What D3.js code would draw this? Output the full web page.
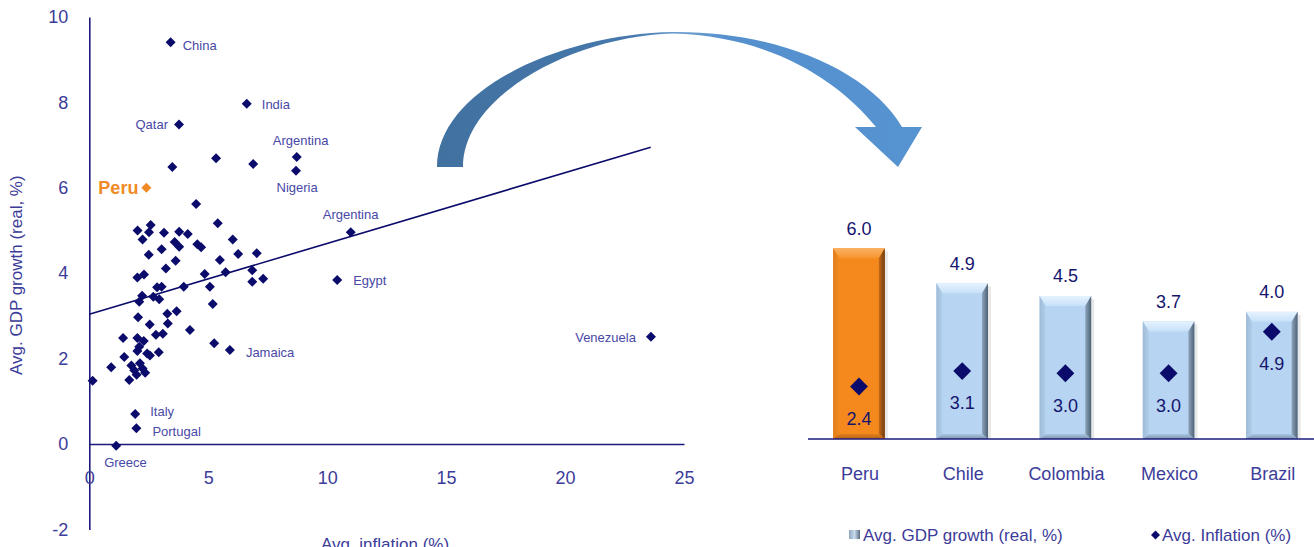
<!DOCTYPE html>
<html><head><meta charset="utf-8">
<script src="https://cdn.jsdelivr.net/npm/d3@7"></script>
<style>body{margin:0;background:#fff}svg{display:block;font-family:"Liberation Sans",Arial,sans-serif}</style>
</head><body><svg id="c" width="1314" height="547"></svg>
<script>
// ---------- data ----------
const clusterInflation = [4.49,2.58,2.03,2.51,3.14,3.78,4.14,5.40,2.24,6.03,3.59,3.78,4.54,4.70,3.04,2.50,6.26,7.04,5.49,3.63,3.22,6.85,5.73,4.85,2.30,2.02,6.85,7.31,3.97,5.07,2.85,3.04,2.22,2.69,2.94,2.10,5.19,3.67,3.28,2.05,3.30,2.54,4.23,3.09,2.80,1.42,2.02,2.29,5.25,2.10,2.02,2.43,2.92,1.47,2.55,0.92,1.77,2.13,1.89,2.24,2.35,1.99,1.68,0.14,3.49,5.33,6.89];
const clusterGdp =       [5.62,5.13,5.00,4.96,4.95,4.97,4.92,5.17,4.79,4.79,4.73,4.62,4.68,4.61,4.56,4.43,4.45,4.47,4.31,4.29,4.11,4.07,4.02,3.98,3.97,3.90,3.80,3.87,3.68,3.68,3.67,3.68,3.47,3.45,3.39,3.33,3.28,3.11,3.05,2.97,2.82,2.80,2.67,2.58,2.56,2.48,2.48,2.41,2.36,2.28,2.18,2.12,2.15,2.04,2.07,1.80,1.84,1.89,1.73,1.77,1.67,1.62,1.50,1.48,6.49,6.69,6.56];
const namedCountries = ["China","India","Qatar","Argentina","Nigeria","Argentina","Egypt","Venezuela","Jamaica","Italy","Portugal","Greece"];
const namedInflation = [3.42,6.62,3.77,8.72,8.69,10.99,10.42,23.61,5.91,1.93,1.98,1.13];
const namedGdp =       [9.41,7.97,7.48,6.72,6.40,4.96,3.84,2.51,2.20,0.70,0.37,-0.04];
const peruName = "Peru", peruInflation = 2.4, peruGdp = 6.0;
const trendInflation = [0, 23.6];
const trendGdp = [3.04, 6.95];
const xTicks = [0,5,10,15,20,25];
const yTicks = [-2,0,2,4,6,8,10];
const barCountries = ["Peru","Chile","Colombia","Mexico","Brazil"];
const barGdp = [6.0,4.9,4.5,3.7,4.0];
const barInflation = [2.4,3.1,3.0,3.0,4.9];
const legendLabels = ["Avg. GDP growth (real, %)","Avg. Inflation (%)"];

// ---------- styles ----------
const NAVY = "#0b0b6b", AXIS = "#1b1b7d", TXT = "#3c3c9a", LBL = "#4848a6", ORANGE = "#f08a24";
const svg = d3.select("#c");
const defs = svg.append("defs");

// ---------- scatter ----------
const sx = d3.scaleLinear().domain([0,25]).range([89.3,684]);
const sy = d3.scaleLinear().domain([-2,10]).range([529.4,17]);

const yAx = svg.append("g").attr("transform",`translate(${sx(0)},0)`)
  .call(d3.axisLeft(sy).tickValues(yTicks).tickSize(0).tickPadding(21).tickSizeOuter(0).tickFormat(d=>String(d)));
const xAx = svg.append("g").attr("transform",`translate(0,${sy(0)})`)
  .call(d3.axisBottom(sx).tickValues(xTicks).tickSize(0).tickPadding(27).tickSizeOuter(0).tickFormat(d=>String(d)));
[xAx,yAx].forEach(a=>{
  a.select(".domain").attr("stroke",AXIS).attr("stroke-width",1.6);
  a.selectAll("text").attr("fill",TXT).attr("font-size",18).attr("font-family","Liberation Sans, Arial, sans-serif");
});

svg.append("text").attr("transform",`translate(22,${(sy(-2)+sy(10))/2+2}) rotate(-90)`)
  .attr("text-anchor","middle").attr("fill",TXT).attr("font-size",17).text("Avg. GDP growth (real, %)");
svg.append("text").attr("x",385).attr("y",550).attr("text-anchor","middle")
  .attr("fill",TXT).attr("font-size",17).text("Avg. inflation (%)");

// trend line
svg.append("line")
  .attr("x1",sx(trendInflation[0])).attr("y1",sy(trendGdp[0]))
  .attr("x2",sx(trendInflation[1])).attr("y2",sy(trendGdp[1]))
  .attr("stroke",NAVY).attr("stroke-width",1.6);

const diamond = d3.symbol().type(d3.symbolSquare).size(50);
const clusterPts = clusterInflation.map((v,i)=>({x:v,y:clusterGdp[i]}));
const namedPts = namedCountries.map((n,i)=>({name:n,x:namedInflation[i],y:namedGdp[i]}));
svg.append("g").selectAll("path").data(clusterPts.concat(namedPts)).join("path")
  .attr("d",diamond).attr("fill",NAVY)
  .attr("transform",d=>`translate(${sx(d.x)},${sy(d.y)}) rotate(45)`);

// label placement (offsets in px)
const labelOffsets = [
  {dx:12,dy:3,a:"start"},{dx:15,dy:0.5,a:"start"},{dx:-11,dy:0,a:"end"},
  {dx:-24,dy:-16.5,a:"start"},{dx:-19.5,dy:17,a:"start"},{dx:-28,dy:-18,a:"start"},
  {dx:16,dy:0.5,a:"start"},{dx:-15,dy:1,a:"end"},{dx:16,dy:2.5,a:"start"},
  {dx:15,dy:-2.5,a:"start"},{dx:16,dy:3.5,a:"start"},{dx:-12,dy:16.5,a:"start"}];
svg.append("g").selectAll("text").data(namedPts).join("text")
  .attr("x",(d,i)=>sx(d.x)+labelOffsets[i].dx)
  .attr("y",(d,i)=>sy(d.y)+labelOffsets[i].dy)
  .attr("dy","0.35em").attr("text-anchor",(d,i)=>labelOffsets[i].a)
  .attr("fill",LBL).attr("font-size",13).text(d=>d.name);

// Peru
svg.append("path").attr("d",diamond).attr("fill",ORANGE)
  .attr("transform",`translate(${sx(peruInflation)},${sy(peruGdp)}) rotate(45)`);
svg.append("text").attr("x",sx(peruInflation)-8).attr("y",sy(peruGdp)).attr("dy","0.35em")
  .attr("text-anchor","end").attr("font-weight","bold").attr("font-size",18).attr("fill",ORANGE).text(peruName);

// ---------- arrow ----------
const ag = defs.append("linearGradient").attr("id","arrowGrad").attr("gradientUnits","userSpaceOnUse")
  .attr("x1",437).attr("y1",0).attr("x2",922).attr("y2",0);
[[0,"#41719f"],[0.4,"#4678ad"],[0.5,"#6d9dd0"],[0.6,"#5590cd"],[1,"#5693d1"]]
  .forEach(([o,c])=>ag.append("stop").attr("offset",o).attr("stop-color",c));
svg.append("path").attr("fill","url(#arrowGrad)")
  .attr("d","M437,167 C437,90 560,34 673,32 C780,31 870,72 902,127 L922,127 L898,167 L855,127 L876,127 C838,80 770,36 673,33.5 C575,36 463,95 463,167 Z");

// ---------- bar chart ----------
const bx = d3.scaleBand().domain(barCountries).range([807.4,1323.4]).paddingInner(0.5).paddingOuter(0.25);
const by = d3.scaleLinear().domain([0,6]).range([439,248.3]);
const byInf = d3.scaleLinear().domain([0,5]).range([439,329.5]);

function grad(id, stops, vertical){
  const g = defs.append("linearGradient").attr("id",id)
    .attr("x1",0).attr("y1",0).attr("x2",vertical?0:1).attr("y2",vertical?1:0);
  stops.forEach(([o,c])=>g.append("stop").attr("offset",o).attr("stop-color",c));
}
const themes = {
  orange:{main:"#f5891d",top:["#fbb062","#f7952e"],left:["#e27c1a","#f08a20"],right:["#c86a18","#6e3c10"],bottom:["#e0801c","#b8621a"]},
  blue:{main:"#b7d5f2",top:["#e6f3ff","#c6e0f8"],left:["#9fbbd7","#b0cde9"],right:["#8ea5bc","#4f6275"],bottom:["#a9c5e0","#7d95ad"]}
};
Object.entries(themes).forEach(([k,t])=>{
  grad(k+"Top",[[0,t.top[0]],[1,t.top[1]]],true);
  grad(k+"Left",[[0,t.left[0]],[1,t.left[1]]],false);
  grad(k+"Right",[[0,t.right[0]],[1,t.right[1]]],false);
  grad(k+"Bot",[[0,t.bottom[0]],[1,t.bottom[1]]],true);
});

const bars = svg.append("g");
barCountries.forEach((c,i)=>{
  const key = i===0 ? "orange" : "blue";
  const x0 = bx(c), x1 = x0+bx.bandwidth(), y0 = by(barGdp[i]), y1 = by(0);
  const b=6, t=10, bb=5;
  const g = bars.append("g");
  g.append("rect").attr("x",x1).attr("y",y0+3).attr("width",3).attr("height",y1-y0-3).attr("fill","#d8d8d8").attr("opacity",0.6);
  g.append("rect").attr("x",x0).attr("y",y0).attr("width",x1-x0).attr("height",y1-y0).attr("fill",themes[key].main);
  const poly = (pts,fill)=>g.append("polygon").attr("points",pts.map(p=>p.join(",")).join(" ")).attr("fill",fill);
  poly([[x0,y0],[x1,y0],[x1-b,y0+t],[x0+b,y0+t]],`url(#${key}Top)`);
  poly([[x0,y0],[x0+b,y0+t],[x0+b,y1-bb],[x0,y1]],`url(#${key}Left)`);
  poly([[x1,y0],[x1,y1],[x1-b,y1-bb],[x1-b,y0+t]],`url(#${key}Right)`);
  poly([[x0,y1],[x0+b,y1-bb],[x1-b,y1-bb],[x1,y1]],`url(#${key}Bot)`);
});

svg.append("line").attr("x1",808).attr("x2",1314).attr("y1",by(0)).attr("y2",by(0))
  .attr("stroke",AXIS).attr("stroke-width",1.6);

const cx = c=>bx(c)+bx.bandwidth()/2;
svg.append("g").selectAll("text").data(barCountries).join("text")
  .attr("x",d=>cx(d)).attr("y",(d,i)=>by(barGdp[i])-20).attr("dy","0.35em")
  .attr("text-anchor","middle").attr("font-size",18).attr("fill","#14146e")
  .text((d,i)=>d3.format(".1f")(barGdp[i]));

const bigDiamond = d3.symbol().type(d3.symbolSquare).size(160);
svg.append("g").selectAll("path").data(barCountries).join("path")
  .attr("d",bigDiamond).attr("fill",NAVY)
  .attr("transform",(d,i)=>`translate(${cx(d)},${byInf(barInflation[i])}) rotate(45)`);
svg.append("g").selectAll("text").data(barCountries).join("text")
  .attr("x",d=>cx(d)).attr("y",(d,i)=>byInf(barInflation[i])+32).attr("dy","0.35em")
  .attr("text-anchor","middle").attr("font-size",18).attr("fill","#14146e")
  .text((d,i)=>d3.format(".1f")(barInflation[i]));

svg.append("g").selectAll("text").data(barCountries).join("text")
  .attr("x",d=>cx(d)+1).attr("y",473.5).attr("dy","0.35em")
  .attr("text-anchor","middle").attr("font-size",18).attr("fill",TXT).text(d=>d);

// legend
const lg = svg.append("g");
grad("legIcon",[[0,"#8fa6bd"],[0.5,"#c9dcef"],[1,"#5c6f82"]],false);
lg.append("rect").attr("x",849).attr("y",530).attr("width",11).attr("height",9).attr("fill","url(#legIcon)");
lg.append("text").attr("x",863).attr("y",535.5).attr("dy","0.35em").attr("font-size",17).attr("fill",TXT).text(legendLabels[0]);
lg.append("path").attr("d",d3.symbol().type(d3.symbolSquare).size(40)).attr("fill",NAVY)
  .attr("transform","translate(1155.5,535) rotate(45)");
lg.append("text").attr("x",1162).attr("y",535.5).attr("dy","0.35em").attr("font-size",17).attr("fill",TXT).text(legendLabels[1]);
</script></body></html>
